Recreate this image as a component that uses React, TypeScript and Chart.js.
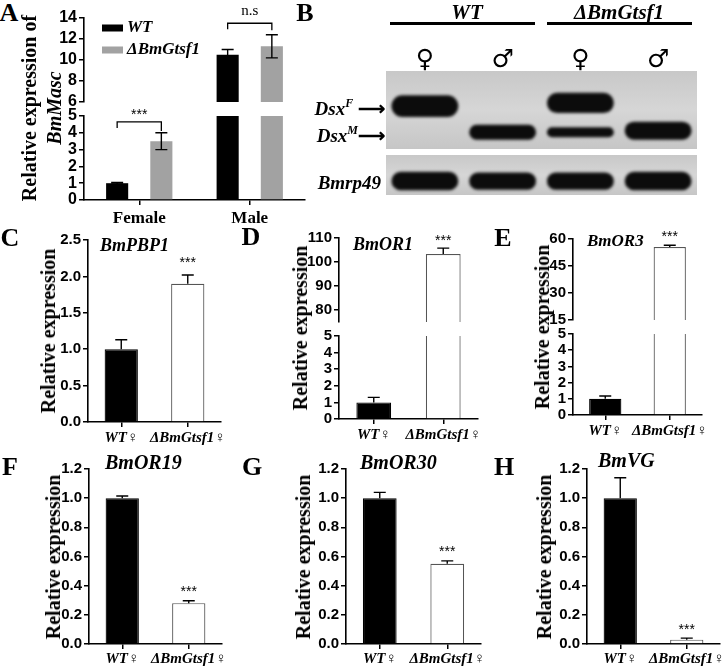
import React, { useEffect, useRef } from 'react';
import { Chart, registerables } from 'chart.js';

Chart.register(...registerables);

const SERIF = '"Liberation Serif", "Times New Roman", serif';
const SERIF_SYM = '"Liberation Serif", "DejaVu Sans", serif';
const SANS = '"Liberation Sans", Arial, sans-serif';
const SYM = '"DejaVu Sans", sans-serif';

// ---------- Panel A : BmMasc ----------
const sexGroups = ['Female', 'Male'];
const seriesNames = ['WT', 'ΔBmGtsf1'];
const mascWT = [1.0, 10.5];
const mascWTErr = [0.05, 0.5];
const mascKO = [3.5, 11.3];
const mascKOErr = [0.5, 1.1];
const mascUpperTicks = [6, 8, 10, 12, 14];
const mascLowerTicks = [0, 1, 2, 3, 4, 5];

// ---------- Panel B : RT-PCR gel (band spans, 0 = top of gel, 100 = bottom) ----------
const laneSymbols = ['♀', '♂', '♀', '♂'];
const dsxFBand = [[31, 59], null, [28, 54], null];
const dsxMBand = [null, [69, 88], [72, 85], [65, 88]];
const rp49Band = [[42, 88], [44, 87], [44, 87], [42, 88]];

// ---------- Panels C-H ----------
const femaleGroups = ['WT♀', 'ΔBmGtsf1♀'];
const pbp1 = [1.0, 1.9];
const pbp1Err = [0.13, 0.12];
const pbp1Ticks = [0, 0.5, 1.0, 1.5, 2.0, 2.5];
const or1 = [1.0, 103.3];
const or1Err = [0.3, 2.5];
const or1UpperTicks = [80, 90, 100, 110];
const or1LowerTicks = [0, 1, 2, 3, 4, 5];
const or3 = [1.0, 55.5];
const or3Err = [0.17, 1.0];
const or3UpperTicks = [15, 30, 45, 60];
const or3LowerTicks = [0, 1, 2, 3, 4, 5];
const or19 = [1.0, 0.28];
const or19Err = [0.015, 0.017];
const or30 = [1.0, 0.55];
const or30Err = [0.04, 0.02];
const vg = [1.0, 0.03];
const vgErr = [0.14, 0.01];
const relTicks = [0, 0.2, 0.4, 0.6, 0.8, 1.0, 1.2];

type Area = { l: number; t: number; r: number; b: number };
const PADL = 60;
const PADT = 26;
const PADR = 3;
const PADB = 34;
const GEL_TOP = 34;

function makeFig(o: any) {
  return {
    id: 'fig',
    beforeDraw(chart: any) {
      if (!o.gel) return;
      const { left, top, right, bottom } = chart.chartArea;
      const ctx = chart.ctx;
      const g = ctx.createLinearGradient(0, top, 0, bottom);
      g.addColorStop(0, '#c8c8c8');
      g.addColorStop(0.5, '#d6d6d6');
      g.addColorStop(1, '#c6c6c6');
      ctx.save();
      ctx.fillStyle = g;
      ctx.fillRect(left, top, right - left, bottom - top);
      ctx.restore();
    },
    beforeDatasetsDraw(chart: any) {
      if (o.blur) chart.ctx.filter = `blur(${o.blur}px)`;
    },
    afterDatasetsDraw(chart: any) {
      const ctx = chart.ctx;
      if (o.blur) ctx.filter = 'none';
      const ca = chart.chartArea;
      // error bars
      ctx.save();
      ctx.beginPath();
      ctx.rect(ca.left - 30, ca.top - 2, ca.right - ca.left + 60, ca.bottom - ca.top + 2);
      ctx.clip();
      ctx.strokeStyle = '#000';
      ctx.lineWidth = 1.4;
      chart.data.datasets.forEach((ds: any, di: number) => {
        const errs = ds.errors;
        if (!errs) return;
        const meta = chart.getDatasetMeta(di);
        const ys = chart.scales[meta.yAxisID];
        meta.data.forEach((bar: any, i: number) => {
          const v = ds.data[i];
          const e = errs[i];
          if (v == null || e == null) return;
          const yv = ys.getPixelForValue(v);
          const yt = ys.getPixelForValue(v + e);
          const yb = o.bothSides ? ys.getPixelForValue(v - e) : yv;
          const cw = o.cap ?? 6;
          ctx.beginPath();
          ctx.moveTo(bar.x, yt);
          ctx.lineTo(bar.x, yb);
          ctx.moveTo(bar.x - cw, yt);
          ctx.lineTo(bar.x + cw, yt);
          if (o.bothSides) {
            ctx.moveTo(bar.x - cw, yb);
            ctx.lineTo(bar.x + cw, yb);
          }
          ctx.stroke();
        });
      });
      ctx.restore();

      ctx.save();
      ctx.fillStyle = '#000';
      ctx.strokeStyle = '#000';
      ctx.lineWidth = 1.3;
      if (o.title) {
        ctx.font = `italic bold ${o.title.size ?? 20}px ${SERIF}`;
        ctx.textAlign = 'left';
        ctx.textBaseline = 'middle';
        ctx.fillText(o.title.text, ca.left + o.title.dx, ca.top + o.title.dy);
      }
      (o.stars || []).forEach((s: any) => {
        const ds = chart.data.datasets[s.ds];
        const meta = chart.getDatasetMeta(s.ds);
        const bar = meta.data[s.i];
        const ys = chart.scales[meta.yAxisID];
        const top = ds.data[s.i] + (ds.errors ? ds.errors[s.i] : 0);
        const y = ys.getPixelForValue(top) - s.gap;
        ctx.font = `14px ${SANS}`;
        ctx.textAlign = 'center';
        ctx.textBaseline = 'middle';
        ctx.fillText(s.text, bar.x, y);
      });
      (o.brackets || []).forEach((b: any) => {
        const m1 = chart.getDatasetMeta(b.a[0]).data[b.a[1]];
        const m2 = chart.getDatasetMeta(b.b[0]).data[b.b[1]];
        const y = chart.scales.y.getPixelForValue(b.value);
        ctx.beginPath();
        ctx.moveTo(m1.x, y + b.dropA);
        ctx.lineTo(m1.x, y);
        ctx.lineTo(m2.x, y);
        ctx.lineTo(m2.x, y + b.dropB);
        ctx.stroke();
        ctx.font = b.font;
        ctx.textAlign = 'center';
        ctx.textBaseline = 'middle';
        ctx.fillText(b.text, (m1.x + m2.x) / 2, y - b.gap);
      });
      if (o.legend) {
        chart.data.datasets.forEach((ds: any, di: number) => {
          const x = ca.left + o.legend.dx;
          const y = ca.top + o.legend.dy + di * o.legend.gap;
          ctx.fillStyle = ds.backgroundColor;
          ctx.fillRect(x, y - 3.5, 21, 7);
          ctx.fillStyle = '#000';
          ctx.font = `italic bold 17px ${SERIF}`;
          ctx.textAlign = 'left';
          ctx.textBaseline = 'middle';
          ctx.fillText(ds.label, x + 25, y);
        });
      }
      ctx.restore();
    },
  };
}

const axisGrid = {
  display: true,
  drawOnChartArea: false,
  drawTicks: true,
  tickLength: 5,
  offset: false,
  color: '#000',
  lineWidth: 1.5,
};
const axisBorder = { display: true, color: '#000', width: 1.6 };

function barCfg(p: any) {
  return {
    type: 'bar',
    data: { labels: p.labels, datasets: p.datasets },
    options: {
      animation: false,
      responsive: false,
      layout: { padding: { left: 0, top: PADT, right: PADR, bottom: p.showX ? 0 : 6 } },
      plugins: { legend: { display: false }, tooltip: { enabled: false }, title: { display: false } },
      scales: {
        x: {
          display: p.showX,
          offset: true,
          grid: axisGrid,
          border: axisBorder,
          ticks: { color: '#000', font: p.xFont, padding: p.xPad ?? 2, maxRotation: 0, autoSkip: false },
          afterFit: (s: any) => {
            if (p.showX) s.height = PADB;
            s.paddingLeft = 0;
            s.paddingRight = 0;
          },
        },
        y: {
          min: p.yMin,
          max: p.yMax,
          afterBuildTicks: (s: any) => {
            s.ticks = p.yTicks.map((v: number) => ({ value: v }));
          },
          afterFit: (s: any) => {
            s.width = PADL;
            s.paddingTop = 0;
            s.paddingBottom = 0;
          },
          grid: axisGrid,
          border: axisBorder,
          ticks: {
            color: '#000',
            autoSkip: false,
            font: { family: SANS, size: p.yFont ?? 15, weight: 'bold' },
            padding: 2,
            callback: (v: any) => Number(v).toFixed(p.dec ?? 0),
          },
        },
      },
    },
    plugins: [makeFig(p.fig || {})],
  };
}

function pairSet(values: number[], errs: number[]) {
  return [
    {
      label: 'expression',
      data: values.slice(),
      errors: errs.slice(),
      backgroundColor: ['#000', '#fff'],
      borderColor: ['#000', '#555'],
      borderWidth: 1.2,
      barPercentage: 0.5,
      categoryPercentage: 1,
    },
  ];
}

function mascSets() {
  return [
    {
      label: seriesNames[0],
      data: mascWT.slice(),
      errors: mascWTErr.slice(),
      backgroundColor: '#000',
      barPercentage: 0.5,
      categoryPercentage: 0.8,
    },
    {
      label: seriesNames[1],
      data: mascKO.slice(),
      errors: mascKOErr.slice(),
      backgroundColor: '#a2a2a2',
      barPercentage: 0.5,
      categoryPercentage: 0.8,
    },
  ];
}

function gelCfg(bands: any[][], showTop: boolean) {
  return {
    type: 'bar',
    data: {
      labels: laneSymbols,
      datasets: bands.map((d) => ({
        data: d.slice(),
        backgroundColor: '#0c0c0c',
        borderRadius: 12,
        borderSkipped: false,
        grouped: false,
        barPercentage: 0.86,
        categoryPercentage: 1,
      })),
    },
    options: {
      animation: false,
      responsive: false,
      layout: { padding: 0 },
      plugins: { legend: { display: false }, tooltip: { enabled: false } },
      scales: {
        x: {
          position: 'top',
          display: showTop,
          grid: { display: false, drawTicks: false },
          border: { display: false },
          ticks: { color: '#000', font: { family: SYM, size: 25 }, padding: -4 },
          afterFit: (s: any) => {
            if (showTop) s.height = GEL_TOP;
            s.paddingLeft = 0;
            s.paddingRight = 0;
          },
        },
        y: { display: false, min: 0, max: 100, reverse: true },
      },
    },
    plugins: [makeFig({ gel: true, blur: 1.6 })],
  };
}

function ChartBox({ left, top, width, height, make }: any) {
  const ref = useRef<HTMLCanvasElement>(null);
  useEffect(() => {
    const c = new Chart(ref.current as HTMLCanvasElement, make());
    return () => c.destroy();
  }, []);
  return (
    <canvas
      ref={ref}
      width={width}
      height={height}
      style={{ position: 'absolute', left, top, width, height }}
    />
  );
}

function BarBox({ area, showX, make }: { area: Area; showX: boolean; make: () => any }) {
  const w = area.r - area.l + PADL + PADR;
  const h = area.b - area.t + PADT + (showX ? PADB : 6);
  return <ChartBox left={area.l - PADL} top={area.t - PADT} width={w} height={h} make={make} />;
}

function Txt({ x, y, size, italic, bold = true, anchor = 'center', rotate, family = SERIF, children }: any) {
  const tx = anchor === 'center' ? '-50%' : anchor === 'right' ? '-100%' : '0';
  return (
    <div
      style={{
        position: 'absolute',
        left: x,
        top: y,
        transform: `translate(${tx}, -50%)${rotate ? ' rotate(-90deg)' : ''}`,
        fontFamily: family,
        fontSize: size,
        fontWeight: bold ? 'bold' : 'normal',
        fontStyle: italic ? 'italic' : 'normal',
        whiteSpace: 'nowrap',
        lineHeight: 1,
        color: '#000',
      }}
    >
      {children}
    </div>
  );
}

const xFemaleFont = { family: SERIF_SYM, size: 15, weight: 'bold', style: 'italic' };
const xSexFont = { family: SERIF, size: 17, weight: 'bold' };

const aUpper: Area = { l: 84, t: 18, r: 305, b: 102 };
const aLower: Area = { l: 84, t: 116, r: 305, b: 200 };
const cArea: Area = { l: 88, t: 240, r: 221, b: 422 };
const dUpper: Area = { l: 339, t: 238, r: 478, b: 322 };
const dLower: Area = { l: 339, t: 336, r: 478, b: 419 };
const eUpper: Area = { l: 573, t: 239, r: 702, b: 320 };
const eLower: Area = { l: 573, t: 334, r: 702, b: 415 };
const fArea: Area = { l: 89, t: 469, r: 222, b: 644 };
const gArea: Area = { l: 346, t: 469, r: 481, b: 644 };
const hArea: Area = { l: 587, t: 469, r: 720, b: 644 };

export default function App() {
  return (
    <div
      style={{
        position: 'absolute',
        left: 0,
        top: 0,
        width: 723,
        height: 671,
        overflow: 'hidden',
        background: '#fff',
      }}
    >
      {/* ---------- A ---------- */}
      <BarBox
        area={aUpper}
        showX={false}
        make={() =>
          barCfg({
            labels: sexGroups,
            datasets: mascSets(),
            showX: false,
            yMin: 6,
            yMax: 14,
            yTicks: mascUpperTicks,
            yFont: 16,
            fig: {
              bothSides: true,
              cap: 6,
              legend: { dx: 18, dy: 10, gap: 22 },
              brackets: [
                { a: [0, 1], b: [1, 1], value: 13.5, dropA: 6, dropB: 7, text: 'n.s', font: `15px ${SERIF}`, gap: 12 },
              ],
            },
          })
        }
      />
      <BarBox
        area={aLower}
        showX={true}
        make={() =>
          barCfg({
            labels: sexGroups,
            datasets: mascSets(),
            showX: true,
            xFont: xSexFont,
            xPad: 3,
            yMin: 0,
            yMax: 5,
            yTicks: mascLowerTicks,
            yFont: 16,
            fig: {
              bothSides: true,
              cap: 6,
              brackets: [
                { a: [0, 0], b: [1, 0], value: 4.65, dropA: 6, dropB: 9, text: '***', font: `14px ${SANS}`, gap: 7 },
              ],
            },
          })
        }
      />
      <Txt x={9} y={13} size={26}>A</Txt>
      <Txt x={29} y={108} size={20} rotate>Relative expression of</Txt>
      <Txt x={54} y={108} size={20} italic rotate>BmMasc</Txt>

      {/* ---------- B ---------- */}
      <Txt x={305} y={13} size={26}>B</Txt>
      <Txt x={467} y={12} size={21} italic>WT</Txt>
      <div style={{ position: 'absolute', left: 390, top: 22, width: 145, height: 3, background: '#000' }} />
      <Txt x={619} y={12} size={21} italic>ΔBmGtsf1</Txt>
      <div style={{ position: 'absolute', left: 547, top: 22, width: 145, height: 3, background: '#000' }} />
      <ChartBox left={386} top={71 - GEL_TOP} width={311} height={78 + GEL_TOP} make={() => gelCfg([dsxFBand, dsxMBand], true)} />
      <ChartBox left={386} top={155} width={311} height={40} make={() => gelCfg([rp49Band], false)} />
      <Txt x={385} y={108} size={19} italic anchor="right">
        Dsx<sup style={{ fontSize: 12, verticalAlign: 'top', position: 'relative', top: -2 }}>F</sup>
        <span style={{ fontStyle: 'normal' }}> ⟶</span>
      </Txt>
      <Txt x={385} y={135} size={19} italic anchor="right">
        Dsx<sup style={{ fontSize: 12, verticalAlign: 'top', position: 'relative', top: -2 }}>M</sup>
        <span style={{ fontStyle: 'normal' }}>⟶</span>
      </Txt>
      <Txt x={381} y={182} size={19} italic anchor="right">Bmrp49</Txt>

      {/* ---------- C ---------- */}
      <BarBox
        area={cArea}
        showX={true}
        make={() =>
          barCfg({
            labels: femaleGroups,
            datasets: pairSet(pbp1, pbp1Err),
            showX: true,
            xFont: xFemaleFont,
            yMin: 0,
            yMax: 2.5,
            yTicks: pbp1Ticks,
            dec: 1,
            fig: {
              title: { text: 'BmPBP1', dx: 12, dy: 6, size: 18 },
              stars: [{ ds: 0, i: 1, text: '***', gap: 12 }],
            },
          })
        }
      />
      <Txt x={10} y={238} size={26}>C</Txt>
      <Txt x={48} y={331} size={20} rotate>Relative expression</Txt>

      {/* ---------- D ---------- */}
      <BarBox
        area={dUpper}
        showX={false}
        make={() =>
          barCfg({
            labels: femaleGroups,
            datasets: pairSet(or1, or1Err),
            showX: false,
            yMin: 75,
            yMax: 110,
            yTicks: or1UpperTicks,
            fig: {
              title: { text: 'BmOR1', dx: 14, dy: 7, size: 18 },
              stars: [{ ds: 0, i: 1, text: '***', gap: 7 }],
            },
          })
        }
      />
      <BarBox
        area={dLower}
        showX={true}
        make={() =>
          barCfg({
            labels: femaleGroups,
            datasets: pairSet(or1, or1Err),
            showX: true,
            xFont: xFemaleFont,
            yMin: 0,
            yMax: 5,
            yTicks: or1LowerTicks,
          })
        }
      />
      <Txt x={251} y={237} size={26}>D</Txt>
      <Txt x={300} y={328} size={20} rotate>Relative expression</Txt>

      {/* ---------- E ---------- */}
      <BarBox
        area={eUpper}
        showX={false}
        make={() =>
          barCfg({
            labels: femaleGroups,
            datasets: pairSet(or3, or3Err),
            showX: false,
            yMin: 15,
            yMax: 60,
            yTicks: or3UpperTicks,
            fig: {
              title: { text: 'BmOR3', dx: 14, dy: 3, size: 17 },
              stars: [{ ds: 0, i: 1, text: '***', gap: 8 }],
            },
          })
        }
      />
      <BarBox
        area={eLower}
        showX={true}
        make={() =>
          barCfg({
            labels: femaleGroups,
            datasets: pairSet(or3, or3Err),
            showX: true,
            xFont: xFemaleFont,
            yMin: 0,
            yMax: 5,
            yTicks: or3LowerTicks,
          })
        }
      />
      <Txt x={503} y={238} size={26}>E</Txt>
      <Txt x={542} y={327} size={20} rotate>Relative expression</Txt>

      {/* ---------- F ---------- */}
      <BarBox
        area={fArea}
        showX={true}
        make={() =>
          barCfg({
            labels: femaleGroups,
            datasets: pairSet(or19, or19Err),
            showX: true,
            xFont: xFemaleFont,
            xPad: 1,
            yMin: 0,
            yMax: 1.2,
            yTicks: relTicks,
            dec: 1,
            fig: {
              title: { text: 'BmOR19', dx: 16, dy: -5 },
              stars: [{ ds: 0, i: 1, text: '***', gap: 9 }],
            },
          })
        }
      />
      <Txt x={10} y={467} size={26}>F</Txt>
      <Txt x={53} y={557} size={20} rotate>Relative expression</Txt>

      {/* ---------- G ---------- */}
      <BarBox
        area={gArea}
        showX={true}
        make={() =>
          barCfg({
            labels: femaleGroups,
            datasets: pairSet(or30, or30Err),
            showX: true,
            xFont: xFemaleFont,
            xPad: 1,
            yMin: 0,
            yMax: 1.2,
            yTicks: relTicks,
            dec: 1,
            fig: {
              title: { text: 'BmOR30', dx: 14, dy: -5 },
              stars: [{ ds: 0, i: 1, text: '***', gap: 9 }],
            },
          })
        }
      />
      <Txt x={252} y={467} size={26}>G</Txt>
      <Txt x={303} y={557} size={20} rotate>Relative expression</Txt>

      {/* ---------- H ---------- */}
      <BarBox
        area={hArea}
        showX={true}
        make={() =>
          barCfg({
            labels: femaleGroups,
            datasets: pairSet(vg, vgErr),
            showX: true,
            xFont: xFemaleFont,
            xPad: 1,
            yMin: 0,
            yMax: 1.2,
            yTicks: relTicks,
            dec: 1,
            fig: {
              title: { text: 'BmVG', dx: 11, dy: -7 },
              stars: [{ ds: 0, i: 1, text: '***', gap: 8 }],
            },
          })
        }
      />
      <Txt x={504} y={467} size={26}>H</Txt>
      <Txt x={544} y={557} size={20} rotate>Relative expression</Txt>
    </div>
  );
}
